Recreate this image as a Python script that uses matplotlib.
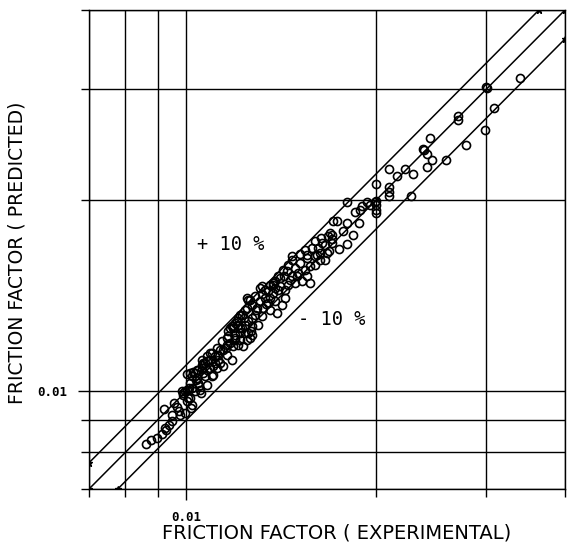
import matplotlib
matplotlib.use("Agg")
import matplotlib.pyplot as plt
from matplotlib.ticker import FixedLocator, NullFormatter, FixedFormatter

# friction factor, experimental (x) vs predicted (y)
exp_ff = [0.00861, 0.00880, 0.00899, 0.00913, 0.00923, 0.00937, 0.00927, 0.00920, 0.00950, 0.00947,
          0.00954, 0.00967, 0.00975, 0.00978, 0.00985, 0.00989, 0.00996, 0.01004, 0.00996, 0.01007,
          0.01004, 0.01015, 0.01011, 0.01022, 0.01018, 0.01004, 0.01022, 0.01033, 0.01041, 0.01045,
          0.01052, 0.01056, 0.01060, 0.01064, 0.01080, 0.01072, 0.01080, 0.01092, 0.01104, 0.01120,
          0.01132, 0.01161, 0.01187, 0.01204, 0.01218, 0.01250, 0.01263, 0.01310, 0.01374, 0.01445,
          0.01015, 0.01026, 0.01041, 0.01037, 0.01064, 0.01080, 0.01100, 0.01060, 0.01072, 0.01092,
          0.01100, 0.01112, 0.01124, 0.01132, 0.01145, 0.01161, 0.01165, 0.01174, 0.01187, 0.01209,
          0.01227, 0.01196, 0.01187, 0.01209, 0.01231, 0.01250, 0.01183, 0.01161, 0.01145, 0.01022,
          0.01033, 0.01049, 0.01015, 0.00989, 0.01254, 0.01272, 0.01241, 0.01227, 0.01209, 0.01196,
          0.01183, 0.01165, 0.01196, 0.01218, 0.01241, 0.01254, 0.01272, 0.01286, 0.01296, 0.01310,
          0.01334, 0.01349, 0.01374, 0.01384, 0.01409, 0.01409, 0.01374, 0.01384, 0.01349, 0.01324,
          0.01359, 0.01394, 0.01419, 0.01300, 0.01272, 0.01263, 0.01241, 0.01196, 0.01544, 0.01555,
          0.01555, 0.01601, 0.01642, 0.01661, 0.01673, 0.01661, 0.01630, 0.01601, 0.01601, 0.01572,
          0.01544, 0.01555, 0.01572, 0.01527, 0.01489, 0.01472, 0.01451, 0.01430, 0.01472, 0.01500,
          0.01505, 0.01489, 0.01451, 0.01399, 0.01384, 0.01359, 0.01334, 0.01679, 0.01691, 0.01286,
          0.01250, 0.01140, 0.01120, 0.01080, 0.01060, 0.01104, 0.01268, 0.01613, 0.01630, 0.01685,
          0.01636, 0.01747, 0.01799, 0.01704, 0.01704, 0.01704, 0.01839, 0.01773, 0.01710, 0.01735,
          0.01799, 0.01879, 0.01852, 0.01799, 0.01935, 0.01957, 0.01899, 0.01886, 0.02000, 0.02000,
          0.02000, 0.02000, 0.03395, 0.02999, 0.03010, 0.03088, 0.02988, 0.02707, 0.02707, 0.02444,
          0.02787, 0.02391, 0.02409, 0.02462, 0.02591, 0.02409, 0.02097, 0.02223, 0.02159, 0.02290,
          0.02000, 0.02097, 0.02097, 0.02097, 0.02273, 0.01993, 0.02382, 0.01472,
          0.01218, 0.01236, 0.01291, 0.01320, 0.01339, 0.01320, 0.01359, 0.01435, 0.01462, 0.01516,
          0.01425, 0.01435, 0.01157, 0.01124, 0.01174, 0.01272, 0.01254, 0.01218, 0.01092, 0.01112,
          0.01045, 0.01584, 0.01619, 0.01516, 0.01399, 0.01320]
pred_ff = [0.00824, 0.00836, 0.00842, 0.00855, 0.00874, 0.00883, 0.00868, 0.00936, 0.00896, 0.00916,
           0.00957, 0.00943, 0.00930, 0.00916, 0.01000, 0.00985, 0.01000, 0.01004, 0.00923, 0.00975,
           0.00964, 0.01030, 0.01011, 0.00950, 0.00940, 0.01064, 0.01056, 0.01068, 0.01049, 0.01030,
           0.01004, 0.00993, 0.01088, 0.01108, 0.01116, 0.01056, 0.01022, 0.01149, 0.01060, 0.01088,
           0.01161, 0.01213, 0.01259, 0.01291, 0.01320, 0.01354, 0.01394, 0.01456, 0.01483, 0.01549,
           0.01068, 0.01072, 0.01080, 0.01041, 0.01068, 0.01080, 0.01056, 0.01100, 0.01108, 0.01120,
           0.01149, 0.01136, 0.01140, 0.01108, 0.01161, 0.01183, 0.01222, 0.01259, 0.01268, 0.01273,
           0.01259, 0.01213, 0.01178, 0.01183, 0.01178, 0.01204, 0.01120, 0.01140, 0.01096, 0.01011,
           0.01000, 0.01018, 0.00975, 0.00993, 0.01394, 0.01369, 0.01344, 0.01320, 0.01305, 0.01282,
           0.01268, 0.01245, 0.01227, 0.01259, 0.01273, 0.01291, 0.01305, 0.01320, 0.01354, 0.01389,
           0.01404, 0.01440, 0.01472, 0.01494, 0.01510, 0.01467, 0.01430, 0.01389, 0.01379, 0.01354,
           0.01344, 0.01329, 0.01369, 0.01273, 0.01227, 0.01213, 0.01236, 0.01204, 0.01673, 0.01642,
           0.01624, 0.01728, 0.01716, 0.01698, 0.01655, 0.01613, 0.01613, 0.01636, 0.01584, 0.01578,
           0.01555, 0.01520, 0.01483, 0.01494, 0.01566, 0.01613, 0.01584, 0.01520, 0.01520, 0.01520,
           0.01538, 0.01483, 0.01472, 0.01445, 0.01456, 0.01472, 0.01445, 0.01759, 0.01777, 0.01414,
           0.01404, 0.01200, 0.01170, 0.01136, 0.01120, 0.01096, 0.01245, 0.01642, 0.01655, 0.01667,
           0.01746, 0.01679, 0.01710, 0.01765, 0.01740, 0.01716, 0.01765, 0.01793, 0.01859, 0.01859,
           0.01846, 0.01846, 0.01921, 0.01986, 0.01986, 0.01971, 0.01957, 0.01935, 0.01993, 0.01964,
           0.01935, 0.01914, 0.03123, 0.03021, 0.03010, 0.02797, 0.02582, 0.02717, 0.02678, 0.02508,
           0.02444, 0.02400, 0.02365, 0.02314, 0.02314, 0.02263, 0.02239, 0.02239, 0.02183, 0.02206,
           0.02121, 0.02097, 0.02060, 0.02031, 0.02031, 0.01986, 0.02409, 0.01636,
           0.01236, 0.01305, 0.01344, 0.01425, 0.01374, 0.01315, 0.01404, 0.01445, 0.01499, 0.01595,
           0.01555, 0.01404, 0.01170, 0.01120, 0.01191, 0.01268, 0.01236, 0.01204, 0.01088, 0.01108,
           0.01080, 0.01685, 0.01685, 0.01648, 0.01520, 0.01467]

lo, hi = 0.007, 0.04
minor_vals = [0.007, 0.008, 0.009, 0.02, 0.03, 0.04]

fig = plt.figure(figsize=(5.71, 5.44), dpi=100)
ax = fig.add_axes([89 / 571, 1 - 489 / 544, 476 / 571, 479 / 544])
ax.set_xscale("log")
ax.set_yscale("log")
ax.set_xlim(lo, hi)
ax.set_ylim(lo, hi)

for axis in (ax.xaxis, ax.yaxis):
    axis.set_major_locator(FixedLocator([0.01]))
    axis.set_major_formatter(FixedFormatter(["0.01"]))
    axis.set_minor_locator(FixedLocator(minor_vals))
    axis.set_minor_formatter(NullFormatter())

ax.grid(True, which="both", color="black", lw=1.0)
for s in ax.spines.values():
    s.set_linewidth(1.0)
ax.tick_params(which="major", direction="out", length=8, width=1.0, pad=8)
ax.tick_params(which="minor", direction="out", length=5.5, width=1.0)
for lab in ax.get_xticklabels() + ax.get_yticklabels():
    lab.set_family("DejaVu Sans Mono")
    lab.set_fontweight("bold")
    lab.set_fontsize(9)

# perfect agreement and +/- 10 % bands
ax.plot([lo, hi], [lo, hi], color="black", lw=1.1, marker="*", ms=5)
ax.plot([lo, hi / 1.1], [lo * 1.1, hi], color="black", lw=1.1, marker="*", ms=5)
ax.plot([lo / 0.9, hi], [lo, hi * 0.9], color="black", lw=1.1, marker="*", ms=5)

ax.plot(exp_ff, pred_ff, "o", mfc="none", mec="black", ms=5.8, mew=1.2)

ax.text(0.01041, 0.01705, "+ 10 %", family="DejaVu Sans Mono", fontsize=13.5, va="center", ha="left")
ax.text(0.01505, 0.01296, "- 10 %", family="DejaVu Sans Mono", fontsize=13.5, va="center", ha="left")

ax.set_xlabel("FRICTION FACTOR ( EXPERIMENTAL)", fontsize=14)
ax.set_ylabel("FRICTION FACTOR ( PREDICTED)", fontsize=13.5)
ax.xaxis.set_label_coords(0.52, -0.071)
ax.yaxis.set_label_coords(-0.132, 0.493)

fig.savefig("out.png", dpi=100)
